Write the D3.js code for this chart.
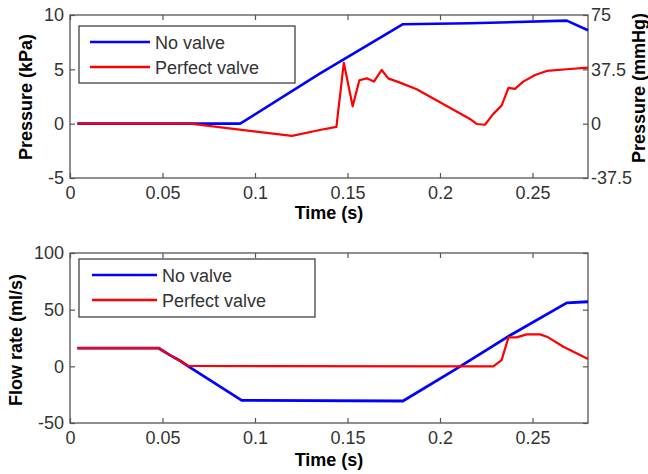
<!DOCTYPE html>
<html>
<head>
<meta charset="utf-8">
<script src="https://cdn.jsdelivr.net/npm/d3@7"></script>
<style>
  html, body { margin: 0; padding: 0; background: #fff; }
  svg { display: block; }
</style>
</head>
<body>
<svg id="chart" width="648" height="474"></svg>
<script>
// ---------- DATA ----------
const seriesNames = ["No valve", "Perfect valve"];
const seriesColors = ["#0000ff", "#ff0000"];

// Top panel: pressure (kPa)
const topNoValveT = [0.004, 0.092, 0.135, 0.18, 0.2162, 0.2685, 0.28];
const topNoValveP = [0, 0, 4.6, 9.15, 9.24, 9.48, 8.6];
const topPerfectT = [0.004, 0.065, 0.12, 0.135, 0.144, 0.148, 0.1528, 0.1564, 0.1604, 0.1643, 0.1685, 0.172, 0.178, 0.1874, 0.2162, 0.2198, 0.2243, 0.2288, 0.2333, 0.237, 0.2405, 0.245, 0.2514, 0.2577, 0.2703, 0.28];
const topPerfectP = [0, 0, -1.13, -0.58, -0.3, 5.6, 1.6, 4.0, 4.17, 3.87, 4.94, 4.17, 3.8, 3.16, 0.43, -0.03, -0.1, 0.9, 1.66, 3.3, 3.2, 3.87, 4.48, 4.85, 5.03, 5.15];

// Bottom panel: flow rate (ml/s)
const botNoValveT = [0.004, 0.048, 0.054, 0.0595, 0.064, 0.0928, 0.18, 0.209, 0.238, 0.2685, 0.28];
const botNoValveQ = [16, 16, 9.9, 4.9, 0, -30, -30.6, -2, 27.5, 56, 57];
const botPerfectT = [0.004, 0.048, 0.054, 0.0595, 0.064, 0.2288, 0.2333, 0.237, 0.2414, 0.2468, 0.2541, 0.2585, 0.2667, 0.28];
const botPerfectQ = [16, 16, 9.9, 4.9, 0.3, 0, 5.5, 25.6, 25.6, 28.2, 28.2, 25.6, 17.3, 6.4];

// Ticks
const xTicks = [0, 0.05, 0.1, 0.15, 0.2, 0.25];
const xTickLabels = ["0", "0.05", "0.1", "0.15", "0.2", "0.25"];
const kPaTicks = [-5, 0, 5, 10];
const kPaTickLabels = ["-5", "0", "5", "10"];
const mmHgTicks = [-37.5, 0, 37.5, 75];
const mmHgTickLabels = ["-37.5", "0", "37.5", "75"];
const flowTicks = [-50, 0, 50, 100];
const flowTickLabels = ["-50", "0", "50", "100"];

// ---------- LAYOUT ----------
const svg = d3.select("#chart");
const FONT = "'Liberation Sans', Arial, Helvetica, sans-serif";
const tickFont = 18;
const labelFont = 18;
const axisColor = "#555";
const textColor = "#333";

const left = 70, right = 588;
const topPanel = { top: 15, bottom: 178 };
const botPanel = { top: 253, bottom: 423 };

const x = d3.scaleLinear().domain([0, 0.28]).range([left, right]);
const yTop = d3.scaleLinear().domain([-5, 10]).range([topPanel.bottom, topPanel.top]);
const yTopR = d3.scaleLinear().domain([-37.5, 75]).range([topPanel.bottom, topPanel.top]);
const yBot = d3.scaleLinear().domain([-50, 100]).range([botPanel.bottom, botPanel.top]);

function fmt(values, labels) {
  return d => labels[values.indexOf(d)];
}

function styleAxis(g) {
  g.select(".domain").remove();
  g.selectAll(".tick line").attr("stroke", axisColor).attr("stroke-width", 1.2);
  g.selectAll(".tick text")
    .attr("fill", textColor)
    .style("font-family", FONT)
    .style("font-size", tickFont + "px");
}

function drawPanel(panel, yScale, yTicks, yLabels, yRight, yRTicks, yRLabels) {
  const g = svg.append("g");
  g.append("g").attr("transform", `translate(0,${panel.bottom})`)
    .call(d3.axisBottom(x).tickValues(xTicks).tickFormat(fmt(xTicks, xTickLabels))
      .tickSizeInner(-5).tickSizeOuter(0).tickPadding(8))
    .call(styleAxis);
  g.append("g").attr("transform", `translate(0,${panel.top})`)
    .call(d3.axisTop(x).tickValues(xTicks).tickFormat("")
      .tickSizeInner(-5).tickSizeOuter(0))
    .call(styleAxis);
  g.append("g").attr("transform", `translate(${left},0)`)
    .call(d3.axisLeft(yScale).tickValues(yTicks).tickFormat(fmt(yTicks, yLabels))
      .tickSizeInner(-5).tickSizeOuter(0).tickPadding(6))
    .call(styleAxis);
  const ra = d3.axisRight(yRight).tickValues(yRTicks).tickSizeInner(-5).tickSizeOuter(0).tickPadding(3);
  ra.tickFormat(yRLabels ? fmt(yRTicks, yRLabels) : "");
  g.append("g").attr("transform", `translate(${right},0)`)
    .call(ra)
    .call(styleAxis);
  g.append("rect")
    .attr("x", left).attr("y", panel.top)
    .attr("width", right - left).attr("height", panel.bottom - panel.top)
    .attr("fill", "none").attr("stroke", axisColor).attr("stroke-width", 1.3);
  return g;
}

drawPanel(topPanel, yTop, kPaTicks, kPaTickLabels, yTopR, mmHgTicks, mmHgTickLabels);
drawPanel(botPanel, yBot, flowTicks, flowTickLabels, yBot, flowTicks, null);

// ---------- LINES ----------
function drawSeries(ts, vs, yScale, color, width) {
  const pts = ts.map((t, i) => [t, vs[i]]);
  svg.append("path")
    .datum(pts)
    .attr("fill", "none")
    .attr("stroke", color)
    .attr("stroke-width", width)
    .attr("stroke-linejoin", "round")
    .attr("d", d3.line().x(d => x(d[0])).y(d => yScale(d[1])));
}
drawSeries(topNoValveT, topNoValveP, yTop, seriesColors[0], 2.6);
drawSeries(topPerfectT, topPerfectP, yTop, seriesColors[1], 2.2);
drawSeries(botNoValveT, botNoValveQ, yBot, seriesColors[0], 2.8);
drawSeries(botPerfectT, botPerfectQ, yBot, seriesColors[1], 2.2);

// ---------- LEGENDS ----------
function drawLegend(bx, by, bw, bh, rowYs, lineX0, lineX1, textX) {
  const g = svg.append("g");
  g.append("rect").attr("x", bx).attr("y", by).attr("width", bw).attr("height", bh)
    .attr("fill", "#fff").attr("stroke", "#333").attr("stroke-width", 1.2);
  seriesNames.forEach((name, i) => {
    g.append("line").attr("x1", lineX0).attr("x2", lineX1)
      .attr("y1", rowYs[i]).attr("y2", rowYs[i])
      .attr("stroke", seriesColors[i]).attr("stroke-width", 2.4);
    g.append("text").attr("x", textX).attr("y", rowYs[i] + 7)
      .attr("fill", textColor)
      .style("font-family", FONT).style("font-size", tickFont + "px")
      .text(name);
  });
}
drawLegend(79, 26, 216, 57, [42, 67], 90, 150, 155);
drawLegend(79, 259, 236, 58, [275, 300], 92, 157, 162);

// ---------- AXIS LABELS ----------
function label(txt, tx, ty, rot) {
  svg.append("text")
    .attr("transform", `translate(${tx},${ty}) rotate(${rot})`)
    .attr("text-anchor", "middle")
    .attr("fill", "#000")
    .style("font-family", FONT).style("font-size", labelFont + "px").style("font-weight", "bold")
    .text(txt);
}
label("Time (s)", (left + right) / 2, 219, 0);
label("Time (s)", (left + right) / 2, 466, 0);
label("Pressure (kPa)", 32, 97, -90);
label("Flow rate (ml/s)", 22, 340, -90);
label("Pressure (mmHg)", 645, 88, -90);
</script>
</body>
</html>
